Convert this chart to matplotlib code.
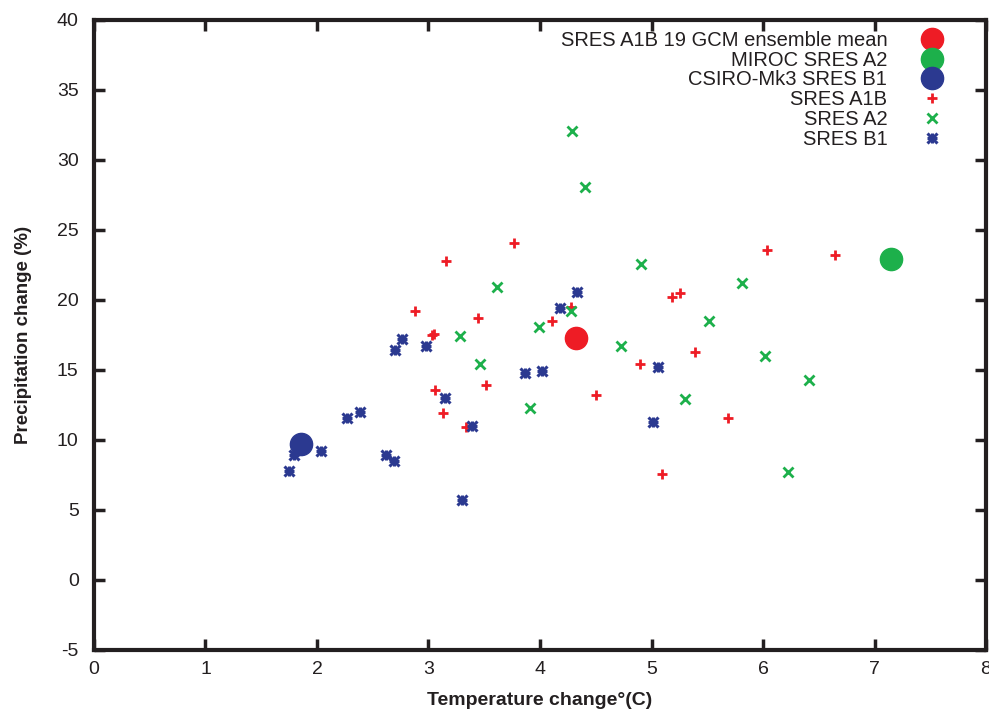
import matplotlib
matplotlib.use("Agg")
import matplotlib.pyplot as plt
from matplotlib.legend_handler import HandlerTuple

plt.rcParams['font.family'] = ['Liberation Sans', 'DejaVu Sans']
plt.rcParams['axes.unicode_minus'] = False

# Ensemble / single-model means
mean_a1b = (4.32, 17.3)
miroc_a2 = (7.15, 22.9)
csiro_b1 = (1.86, 9.7)

# SRES A1B
a1b_t = [3.77, 3.16, 4.28, 2.88, 3.44, 4.11, 3.03, 3.05, 3.52, 3.06, 4.50,
         3.13, 3.34, 6.04, 6.65, 5.18, 5.26, 5.39, 4.90, 5.69, 5.09]
a1b_p = [24.1, 22.8, 19.5, 19.2, 18.7, 18.5, 17.5, 17.6, 13.9, 13.6, 13.2,
         11.9, 10.9, 23.6, 23.2, 20.2, 20.5, 16.3, 15.4, 11.6, 7.6]

# SRES A2
a2_t = [3.61, 4.28, 3.99, 3.28, 3.46, 3.91, 4.91, 5.81, 5.52, 4.73, 6.02,
        6.41, 5.30, 6.22, 4.29, 4.40]
a2_p = [20.9, 19.2, 18.1, 17.4, 15.4, 12.3, 22.6, 21.2, 18.5, 16.7, 16.0,
        14.3, 12.9, 7.7, 32.1, 28.1]

# SRES B1
b1_t = [4.33, 4.18, 2.76, 2.70, 2.98, 3.87, 4.02, 3.15, 2.39, 2.27, 3.39,
        2.04, 1.79, 2.62, 2.69, 1.75, 3.30, 5.06, 5.01]
b1_p = [20.6, 19.4, 17.2, 16.4, 16.7, 14.8, 14.9, 13.0, 12.0, 11.6, 11.0,
        9.2, 8.9, 8.9, 8.5, 7.8, 5.7, 15.2, 11.3]

xticks = [0, 1, 2, 3, 4, 5, 6, 7, 8]
yticks = [-5, 0, 5, 10, 15, 20, 25, 30, 35, 40]

RED = '#ee1c25'
GREEN = '#1db04b'
BLUE = '#2b3990'
INK = '#231f20'

fig = plt.figure(figsize=(9.89, 7.13), dpi=100)
ax = fig.add_axes([0.095, 0.0884, 0.902, 0.8836])

h1, = ax.plot([mean_a1b[0]], [mean_a1b[1]], 'o', color=RED, ms=16, ls='none')
h2, = ax.plot([miroc_a2[0]], [miroc_a2[1]], 'o', color=GREEN, ms=16, ls='none')
h3, = ax.plot([csiro_b1[0]], [csiro_b1[1]], 'o', color=BLUE, ms=16, ls='none')
h4, = ax.plot(a1b_t, a1b_p, '+', color=RED, ms=7.5, mew=2.0, ls='none')
h5, = ax.plot(a2_t, a2_p, 'x', color=GREEN, ms=6.5, mew=2.0, ls='none')
h6a, = ax.plot(b1_t, b1_p, '+', color=BLUE, ms=7.5, mew=2.2, ls='none')
h6b, = ax.plot(b1_t, b1_p, 'x', color=BLUE, ms=6.5, mew=2.2, ls='none')

ax.set_xlim(0, 8)
ax.set_ylim(-5, 40)
ax.set_xticks(xticks)
ax.set_yticks(yticks)
ax.tick_params(direction='in', length=8, width=2.5, top=True, right=True,
               labelsize=14, color=INK, labelcolor=INK)
ax.tick_params(axis='y', pad=11)
ax.tick_params(axis='x', pad=8)
for s in ax.spines.values():
    s.set_linewidth(3)
    s.set_color(INK)

ax.set_xlabel('Temperature change°(C)', fontsize=14, fontweight='bold', color=INK)
ax.set_ylabel('Precipitation change (%)', fontsize=13.5, fontweight='bold', color=INK)
ax.xaxis.set_label_coords(0.5, -0.067)
ax.yaxis.set_label_coords(-0.069, 0.5)

labels = ['SRES A1B 19 GCM ensemble mean', 'MIROC SRES A2', 'CSIRO-Mk3 SRES B1',
          'SRES A1B', 'SRES A2', 'SRES B1']
leg = ax.legend([h1, h2, h3, h4, h5, (h6a, h6b)], labels,
                handler_map={tuple: HandlerTuple(ndivide=1, pad=0)},
                loc='upper right', bbox_to_anchor=(0.965, 1.0),
                frameon=False, markerfirst=False,
                fontsize=14.5, handlelength=1.2, handletextpad=1.6,
                labelspacing=0.035, borderaxespad=0.15, numpoints=1)
for t in leg.get_texts():
    t.set_ha('right')
    t.set_color(INK)

fig.savefig('out.png', dpi=100)
